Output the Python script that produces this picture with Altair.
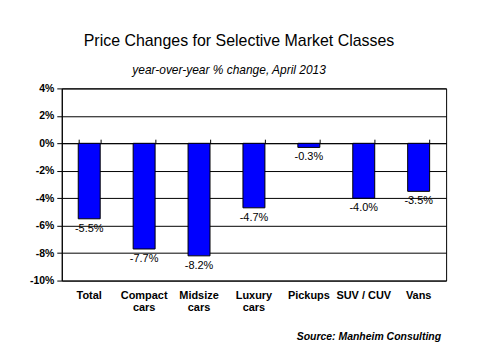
import altair as alt
import pandas as pd

categories = ["Total", "Compact cars", "Midsize cars", "Luxury cars", "Pickups", "SUV / CUV", "Vans"]
values = [-5.5, -7.7, -8.2, -4.7, -0.3, -4.0, -3.5]
y_ticks = [-10, -8, -6, -4, -2, 0, 2, 4]
title_text = "Price Changes for Selective Market Classes"
subtitle_text = "year-over-year % change, April 2013"
source_text = "Source: Manheim Consulting"

df = pd.DataFrame({"cat": categories, "val": values})
FONT = "Liberation Sans"

xscale = alt.Scale(paddingInner=0.6, paddingOuter=0.3)
yscale = alt.Scale(domain=[-10, 4], nice=False, zero=False)

label_expr = "datum.label == 'SUV / CUV' ? datum.label : split(datum.label, ' ')"

yaxis = alt.Axis(title=None, values=y_ticks, labelExpr="datum.value + '%'",
                 grid=True, gridColor="black", gridWidth=1, gridOpacity=1,
                 domainColor="black", tickColor="black", tickSize=5,
                 labelFont=FONT, labelFontSize=10.5, labelFontWeight="bold",
                 labelColor="black", labelPadding=3)

bars = alt.Chart(df).mark_bar(color="#0000FF", stroke="black", strokeWidth=1).encode(
    x=alt.X("cat:N", sort=categories, scale=xscale,
            axis=alt.Axis(orient="bottom", title=None, domain=False, ticks=False,
                          labelAngle=0, labelFont=FONT, labelFontSize=11, labelFontWeight="bold",
                          labelColor="black", labelPadding=9, labelExpr=label_expr,
                          labelLineHeight=12, labelBaseline="top")),
    y=alt.Y("val:Q", scale=yscale, axis=yaxis),
)

labels = alt.Chart(df).mark_text(font=FONT, fontSize=11, color="black", baseline="top", dy=4).encode(
    x=alt.X("cat:N", sort=categories, scale=xscale,
            axis=alt.Axis(orient="top", offset=-55, title=None, labels=False,
                          tickBand="extent", tickSize=4, tickColor="black",
                          domainColor="black", grid=False)),
    y=alt.Y("val:Q", scale=yscale, axis=yaxis),
    text=alt.Text("label:N"),
).transform_calculate(
    label="(datum.val < 0 ? '-' : '') + format(abs(datum.val), '.1f') + '%'")

title = alt.Chart(pd.DataFrame({"t": [title_text]})).mark_text(
    font=FONT, fontSize=16, color="black", align="center", baseline="middle").encode(
    text="t:N", x=alt.value(178), y=alt.value(-48))
sub = alt.Chart(pd.DataFrame({"t": [subtitle_text]})).mark_text(
    font=FONT, fontSize=12, fontStyle="italic", color="black", align="center", baseline="middle").encode(
    text="t:N", x=alt.value(168), y=alt.value(-18))
src = alt.Chart(pd.DataFrame({"t": [source_text]})).mark_text(
    font=FONT, fontSize=10.5, fontStyle="italic", fontWeight="bold", color="black",
    align="right", baseline="middle").encode(
    text="t:N", x=alt.value(381), y=alt.value(250))

chart = alt.layer(bars, labels, title, sub, src).resolve_axis(x="independent").properties(
    width=386, height=193,
    autosize=alt.AutoSizeParams(type="none"),
    padding={"left": 54, "top": 80, "right": 26, "bottom": 71},
    background="white",
).configure_view(stroke="black", strokeWidth=1)

chart.save("out.html", embed_options={"renderer": "svg", "actions": False})
